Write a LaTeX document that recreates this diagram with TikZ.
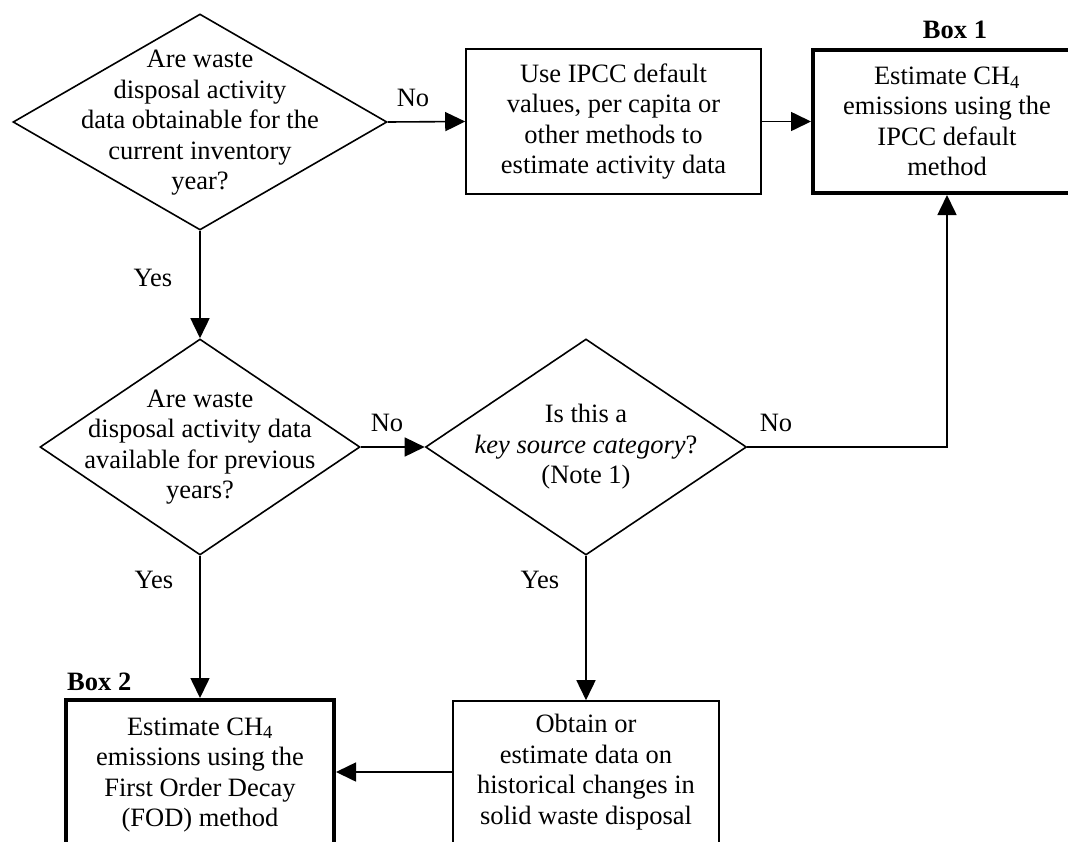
\documentclass[tikz,border=0pt]{standalone}
\usepackage{fontspec}
\setmainfont{Liberation Serif}
\usetikzlibrary{shapes.geometric,arrows.meta}
\begin{document}
\begin{tikzpicture}[x=1pt,y=-1pt,
  every node/.style={font=\fontsize{26.5}{30.5}\selectfont},
  thinbox/.style={draw,line width=1.6pt,rectangle,inner sep=0pt},
  thickbox/.style={draw,line width=4pt,rectangle,inner sep=0pt},
  dia/.style={draw,line width=1.6pt,diamond,inner sep=0pt},
  txt/.style={align=center,inner sep=0pt},
  lbl/.style={inner sep=0pt},
  arr/.style={line width=1.6pt,-{Triangle[length=20pt,width=19pt]}},
  ln/.style={line width=1.6pt}]
\useasboundingbox (0,0) rectangle (1068,841);
% decisions
\node[dia,minimum width=374pt,minimum height=216pt] (d1) at (200,122) {};
\node[txt] (d1t) at (200,123) {Are waste\\disposal activity\\data obtainable for the\\current inventory\\year?};
\node[dia,minimum width=320pt,minimum height=216pt] (d2) at (200,447) {};
\node[txt] (d2t) at (200,447) {Are waste\\disposal activity data\\available for previous\\years?};
\node[dia,minimum width=321pt,minimum height=216pt] (d3) at (586,447) {};
\node[txt] (d3t) at (586,447) {Is this a\\\textit{key source category}?\\(Note 1)};
% boxes
\node[thinbox,minimum width=295pt,minimum height=145pt,align=center] (bA) at (613.5,121.5)
  {Use IPCC default\\values, per capita or\\other methods to\\estimate activity data};
\node[thickbox,minimum width=268pt,minimum height=143pt,align=center] (b1) at (947,121.5)
  {Estimate CH\textsubscript{4}\\emissions using the\\IPCC default\\method};
\node[lbl,font=\fontsize{26.5}{30.5}\selectfont\bfseries] (b1l) at (955,30) {Box 1};
\node[thickbox,minimum width=268pt,minimum height=150pt,align=center] (b2) at (200,775)
  {Estimate CH\textsubscript{4}\\emissions using the\\First Order Decay\\(FOD) method};
\node[lbl,font=\fontsize{26.5}{30.5}\selectfont\bfseries,anchor=west] (b2l) at (67,682) {Box 2};
\node[thinbox,minimum width=266pt,minimum height=142pt,align=center] (bO) at (586,772)
  {Obtain or\\estimate data on\\historical changes in\\solid waste disposal};
% connectors
\draw[arr] (d1.east) -- (bA.west);
\node[lbl] (n1) at (413,98) {No};
\draw[arr] (bA.east) -- (b1.west);
\draw[arr] (d1.south) -- (d2.north);
\node[lbl] (y1) at (153,278) {Yes};
\draw[arr] (d2.east) -- (d3.west);
\node[lbl] (n2) at (387,423) {No};
\draw[arr] (d3.east) -| (b1.south);
\node[lbl] (n3) at (776,423) {No};
\draw[arr] (d2.south) -- (b2.north);
\node[lbl] (y2) at (154,580) {Yes};
\draw[arr] (d3.south) -- (bO.north);
\node[lbl] (y3) at (540,580) {Yes};
\draw[arr] (bO.west) -- (bO.west -| b2.east);
\end{tikzpicture}
\end{document}
